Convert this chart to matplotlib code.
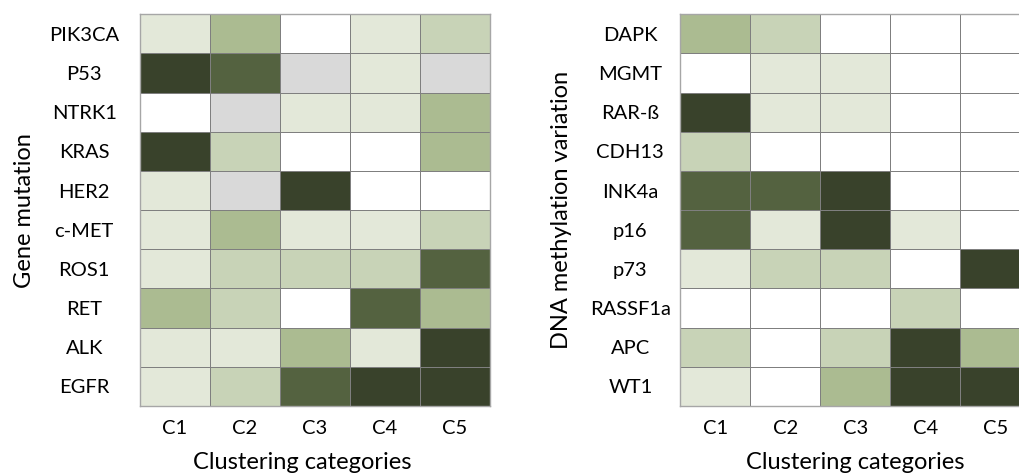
import numpy as np
import matplotlib
matplotlib.use("Agg")
import matplotlib.pyplot as plt
from matplotlib.colors import ListedColormap, BoundaryNorm

plt.rcParams['font.family'] = ['Lato', 'DejaVu Sans']

# clustering categories shared by both panels
categories = ["C1", "C2", "C3", "C4", "C5"]

# gene mutation levels (-1 = not available, 0 = none ... 5 = highest)
genes = ["PIK3CA", "P53", "NTRK1", "KRAS", "HER2", "c-MET", "ROS1", "RET", "ALK", "EGFR"]
gene_levels = [
    [1, 3, 0, 1, 2],
    [5, 4, -1, 1, -1],
    [0, -1, 1, 1, 3],
    [5, 2, 0, 0, 3],
    [1, -1, 5, 0, 0],
    [1, 3, 1, 1, 2],
    [1, 2, 2, 2, 4],
    [3, 2, 0, 4, 3],
    [1, 1, 3, 1, 5],
    [1, 2, 4, 5, 5],
]

# DNA methylation levels
methyl = ["DAPK", "MGMT", "RAR-ß", "CDH13", "INK4a", "p16", "p73", "RASSF1a", "APC", "WT1"]
methyl_levels = [
    [3, 2, 0, 0, 0],
    [0, 1, 1, 0, 0],
    [5, 1, 1, 0, 0],
    [2, 0, 0, 0, 0],
    [4, 4, 5, 0, 0],
    [4, 1, 5, 1, 0],
    [1, 2, 2, 0, 5],
    [0, 0, 0, 2, 0],
    [2, 0, 2, 5, 3],
    [1, 0, 3, 5, 5],
]

palette = ["#d9d9d9", "#ffffff", "#e3e8d9", "#c8d3b7", "#abbb91", "#546240", "#39422b"]
cmap = ListedColormap(palette)
norm = BoundaryNorm(np.arange(-1.5, 6.5, 1), cmap.N)


def draw_panel(ax, rows, levels, ylabel, ylabel_x, xlabel_x, pad):
    data = np.array(levels)
    ax.pcolormesh(data, cmap=cmap, norm=norm, edgecolors="#7f7f7f", linewidth=0.6)
    ax.set_xlim(0, data.shape[1])
    ax.set_ylim(data.shape[0], 0)
    ax.set_xticks(np.arange(data.shape[1]) + 0.5)
    ax.set_xticklabels(categories, fontsize=14.5)
    ax.set_yticks(np.arange(data.shape[0]) + 0.5)
    ax.set_yticklabels(rows, fontsize=14.5, ha="center")
    ax.tick_params(length=0)
    ax.tick_params(axis="x", pad=10)
    ax.tick_params(axis="y", pad=pad)
    for s in ax.spines.values():
        s.set_color("#a6a6a6")
        s.set_linewidth(1.0)
    ax.set_xlabel("Clustering categories", fontsize=17)
    ax.xaxis.set_label_coords(xlabel_x, -0.118)
    ax.set_ylabel(ylabel, fontsize=17)
    ax.yaxis.set_label_coords(ylabel_x, 0.5)


fig = plt.figure(figsize=(10.2, 4.74), dpi=100)
ax1 = fig.add_axes([0.137, 0.1435, 0.343, 0.8265])
ax2 = fig.add_axes([0.667, 0.1435, 0.343, 0.8265])

draw_panel(ax1, genes, gene_levels, "Gene mutation", -0.30, 0.465, 40)
draw_panel(ax2, methyl, methyl_levels, "DNA methylation variation", -0.31, 0.5, 36)

fig.savefig("out.png", dpi=100)
